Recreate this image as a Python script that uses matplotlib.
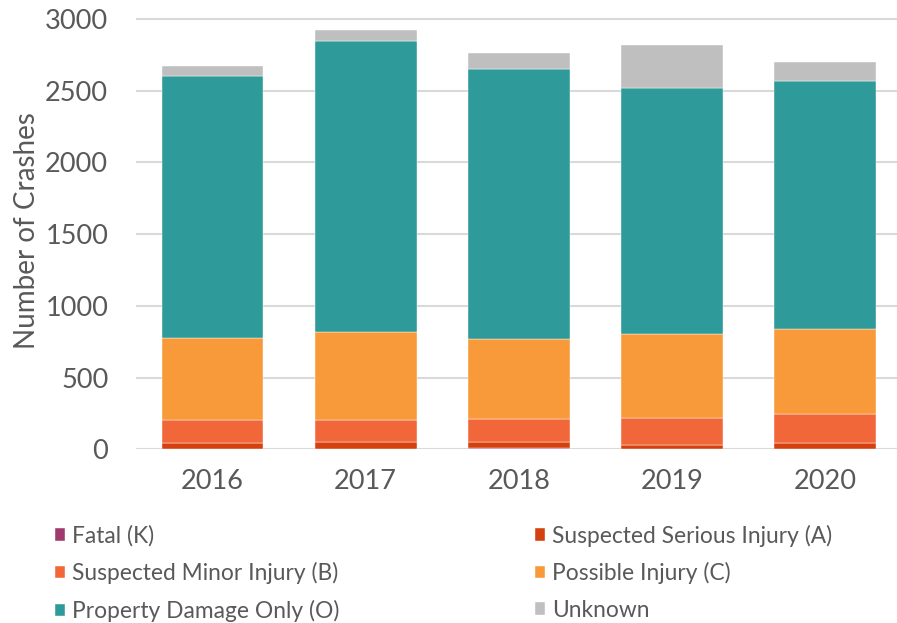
import matplotlib
matplotlib.use("Agg")
import matplotlib.pyplot as plt
import numpy as np

years = ["2016", "2017", "2018", "2019", "2020"]
fatal = [3, 4, 12, 3, 4]
serious = [39, 48, 40, 28, 38]
minor = [162, 153, 160, 190, 205]
possible = [569, 614, 554, 580, 591]
pdo = [1826, 2024, 1882, 1721, 1733]
unknown = [70, 77, 118, 300, 130]

labels = ["Fatal (K)", "Suspected Serious Injury (A)", "Suspected Minor Injury (B)",
          "Possible Injury (C)", "Property Damage Only (O)", "Unknown"]
colors = ["#a0396d", "#d4410f", "#f2673a", "#f89a3a", "#2e9a99", "#bfbfbf"]
series = [fatal, serious, minor, possible, pdo, unknown]

text_color = "#595959"
plt.rcParams["font.family"] = ["Lato", "DejaVu Sans"]

fig = plt.figure(figsize=(8.97, 6.23), dpi=100)
ax = fig.add_axes([136 / 897, 1 - 449.3 / 623, 761 / 897, (449.3 - 11.8) / 623])

x = np.arange(len(years))
bottom = np.zeros(len(years))
handles = []
for vals, lab, col in zip(series, labels, colors):
    b = ax.bar(x, vals, width=0.664, bottom=bottom, color=col, label=lab,
               edgecolor="white", linewidth=0.3, zorder=3)
    handles.append(b)
    bottom += np.array(vals)

ax.set_xlim(-0.5, 4.47)
ax.set_ylim(0, 3050)
ax.set_yticks([0, 500, 1000, 1500, 2000, 2500, 3000])
ax.set_xticks(x)
ax.set_xticklabels(years)
ax.grid(axis="y", color="#d9d9d9", linewidth=1.5, zorder=0)
for s in ["top", "right", "left", "bottom"]:
    ax.spines[s].set_visible(False)
ax.tick_params(axis="both", length=0, labelsize=19.5, colors=text_color)
ax.tick_params(axis="y", pad=20)
ax.tick_params(axis="x", pad=14)
ax.set_ylabel("Number of Crashes", fontsize=20, color=text_color, labelpad=4)

# legend is filled column-wise, so reorder to get row-wise pairs
order = [0, 2, 4, 1, 3, 5]
fig.legend([handles[i] for i in order], [labels[i] for i in order],
           ncol=2, loc="upper left", bbox_to_anchor=(34 / 897, 1 - 504 / 623),
           frameon=False, fontsize=16.4, labelcolor=text_color,
           handlelength=0.45, handleheight=0.45, handletextpad=0.3,
           columnspacing=8.6, labelspacing=0.68)

fig.savefig("out.png", dpi=100)
